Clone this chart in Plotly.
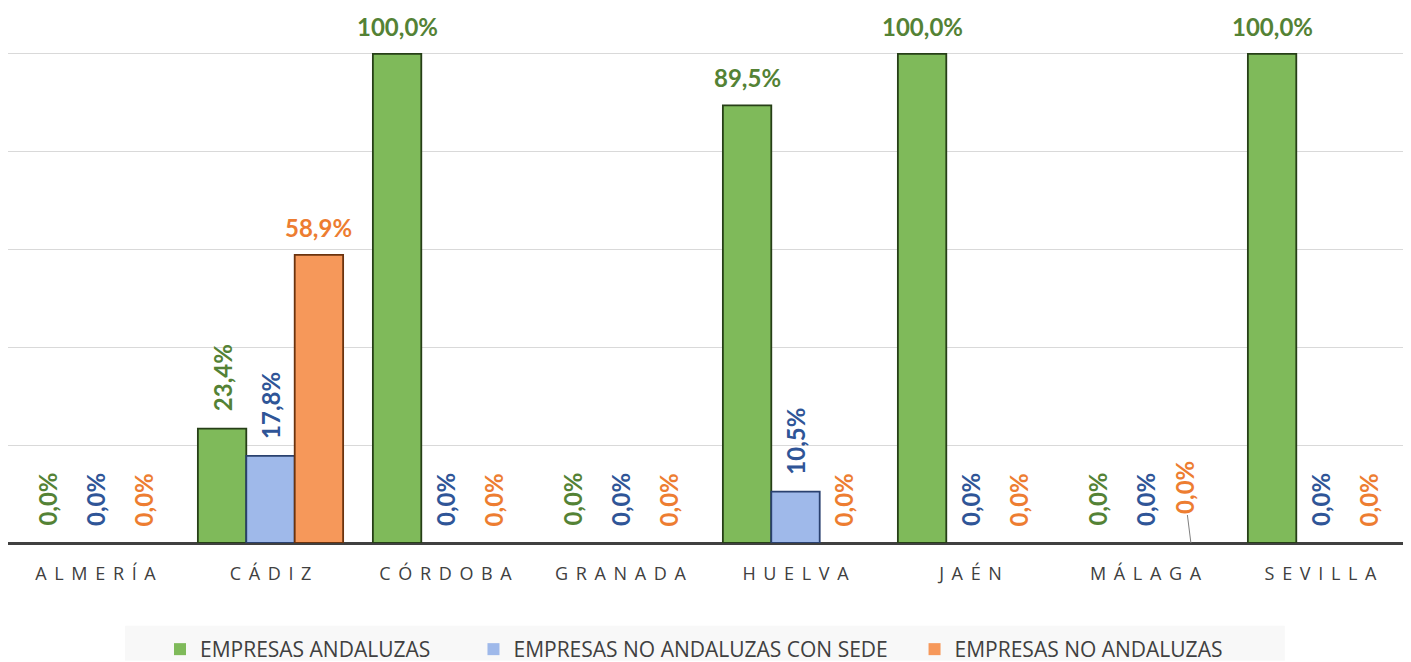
import plotly.graph_objects as go

categories = ["ALMERÍA", "CÁDIZ", "CÓRDOBA", "GRANADA", "HUELVA", "JAÉN", "MÁLAGA", "SEVILLA"]
andaluzas = [0.0, 23.4, 100.0, 0.0, 89.5, 100.0, 0.0, 100.0]
no_and_sede = [0.0, 17.8, 0.0, 0.0, 10.5, 0.0, 0.0, 0.0]
no_andaluzas = [0.0, 58.9, 0.0, 0.0, 0.0, 0.0, 0.0, 0.0]
series_names = ["EMPRESAS ANDALUZAS", "EMPRESAS NO ANDALUZAS CON SEDE", "EMPRESAS NO ANDALUZAS"]

series = [andaluzas, no_and_sede, no_andaluzas]
fills = ["#7fba5a", "#9fb9ea", "#f6985a"]
lines = ["#263f17", "#2a416f", "#6b330e"]
label_colors = ["#548235", "#2f5597", "#ed7d31"]

pads = ["\u00a0" * 7, "\u00a0" * 4, ""]
fig = go.Figure()
for i, (name, vals, fc, lc) in enumerate(zip(series_names, series, fills, lines)):
    fig.add_trace(go.Bar(
        x=categories, y=vals, name=name + pads[i],
        marker=dict(color=fc, line=dict(color=lc, width=[1.8 if v > 0 else 0 for v in vals])),
    ))

offsets = [-48.4, 0, 48.4]
label_font = "Lato, Open Sans, sans-serif"
for si, vals in enumerate(series):
    for ci, v in enumerate(vals):
        txt = f"{v:.1f}".replace(".", ",") + "%"
        horizontal = v >= 50
        font = dict(family=label_font, size=24, color=label_colors[si])
        if horizontal:
            fig.add_annotation(x=categories[ci], y=v, xref="x", yref="y", text=f"<b>{txt}</b>",
                               showarrow=False, xshift=offsets[si], yshift=11, yanchor="bottom",
                               font=font)
        elif si == 2 and categories[ci] == "MÁLAGA":
            fig.add_annotation(x=categories[ci], y=v, xref="x", yref="y", text=f"<b>{txt}</b>",
                               showarrow=True, arrowhead=0, arrowwidth=1, arrowcolor="#7f7f7f",
                               ax=-7, ay=-56, xshift=offsets[si] - 3, textangle=-90,
                               font=font)
        else:
            fig.add_annotation(x=categories[ci], y=v, xref="x", yref="y", text=f"<b>{txt}</b>",
                               showarrow=False, xshift=offsets[si], yshift=15, yanchor="bottom",
                               textangle=-90, font=font)

# legend background band
fig.add_shape(type="rect", xref="paper", yref="paper", x0=0.0836, x1=0.912, y0=-0.2201, y1=-0.1549,
              fillcolor="#f8f8f8", line=dict(width=0), layer="below")

sp = " \u2009"
fig.update_layout(
    width=1411, height=662,
    margin=dict(l=0, r=11, t=0, b=126),
    paper_bgcolor="white", plot_bgcolor="white",
    barmode="group", bargap=0.17, bargroupgap=0,
    showlegend=True,
    legend=dict(orientation="h", x=0.49, xanchor="center", y=-0.198, yanchor="middle",
                bgcolor="rgba(0,0,0,0)", font=dict(family="Open Sans, sans-serif",
                                                   size=21, color="#404040"),
                itemwidth=30),
    xaxis=dict(tickmode="array", tickvals=categories, ticktext=[sp.join(c) for c in categories],
               tickfont=dict(family="Open Sans, sans-serif", size=18, color="#404040"),
               showline=False, showgrid=False, ticks="", ticklabelstandoff=18),
    yaxis=dict(range=[0, 109.4], dtick=20, showticklabels=False, showgrid=True,
               gridcolor="#d9d9d9", gridwidth=1, zeroline=True, zerolinecolor="#404040",
               zerolinewidth=3),
)

fig.write_html("out.html")
